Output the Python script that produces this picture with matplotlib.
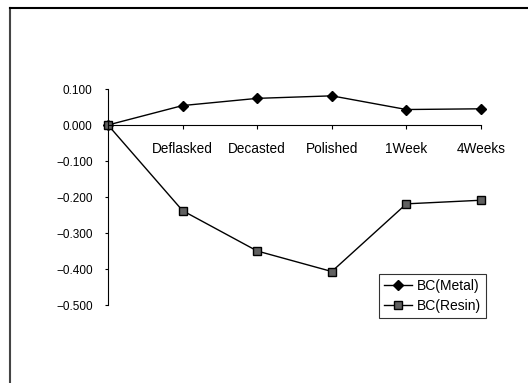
import numpy as np
import matplotlib.pyplot as plt
from matplotlib.lines import Line2D

plt.rcParams['font.family'] = ['Liberation Sans', 'DejaVu Sans']

# data
x = np.arange(0, 6)
categories = ['', 'Deflasked', 'Decasted', 'Polished', '1Week', '4Weeks']
metal = [0.000, 0.054, 0.074, 0.081, 0.043, 0.045]
resin = [0.000, -0.238, -0.350, -0.407, -0.219, -0.209]
yticks = [0.1, 0.0, -0.1, -0.2, -0.3, -0.4, -0.5]

fig = plt.figure(figsize=(5.28, 3.83), dpi=100)
ax = fig.add_axes([108/528, 1 - 305/383, (481 - 108)/528, (305 - 89)/383])

ax.plot(x, metal, color='black', lw=1, marker='D', ms=5.5,
        mfc='black', mec='black', label='BC(Metal)', clip_on=False)
ax.plot(x, resin, color='black', lw=1, marker='s', ms=6,
        mfc='#606060', mec='black', mew=1, label='BC(Resin)', clip_on=False)

ax.set_xlim(0, 5)
ax.set_ylim(-0.5, 0.1)
ax.set_yticks(yticks)
ax.set_yticklabels(['%.3f' % v if v >= 0 else '\u2212%.3f' % abs(v) for v in yticks])
ax.set_xticks(x[1:])
ax.set_xticklabels(categories[1:])

ax.spines['top'].set_visible(False)
ax.spines['right'].set_visible(False)
ax.spines['bottom'].set_position(('data', 0))
ax.spines['bottom'].set_bounds(0, 5)
ax.spines['left'].set_linewidth(0.8)
ax.spines['bottom'].set_linewidth(0.8)

ax.tick_params(axis='x', direction='out', length=3, pad=9, labelsize=9.8)
ax.tick_params(axis='y', direction='out', length=2, pad=9, labelsize=8.5)

leg = ax.legend(loc='upper left', bbox_to_anchor=((379 - 108)/373, (305 - 274)/216),
                frameon=True, fancybox=False, edgecolor='black', fontsize=10,
                handlelength=2.0, borderpad=0.35, labelspacing=0.45,
                handletextpad=0.4, borderaxespad=0)
leg.get_frame().set_linewidth(0.8)

# outer frame of the chart area
fig.add_artist(Line2D([10/528, 10/528], [0, 1 - 8/383], color='#444444', lw=1.5))
fig.add_artist(Line2D([10/528, 1], [1 - 8/383, 1 - 8/383], color='black', lw=1.5))

fig.savefig('out.png', dpi=100)
